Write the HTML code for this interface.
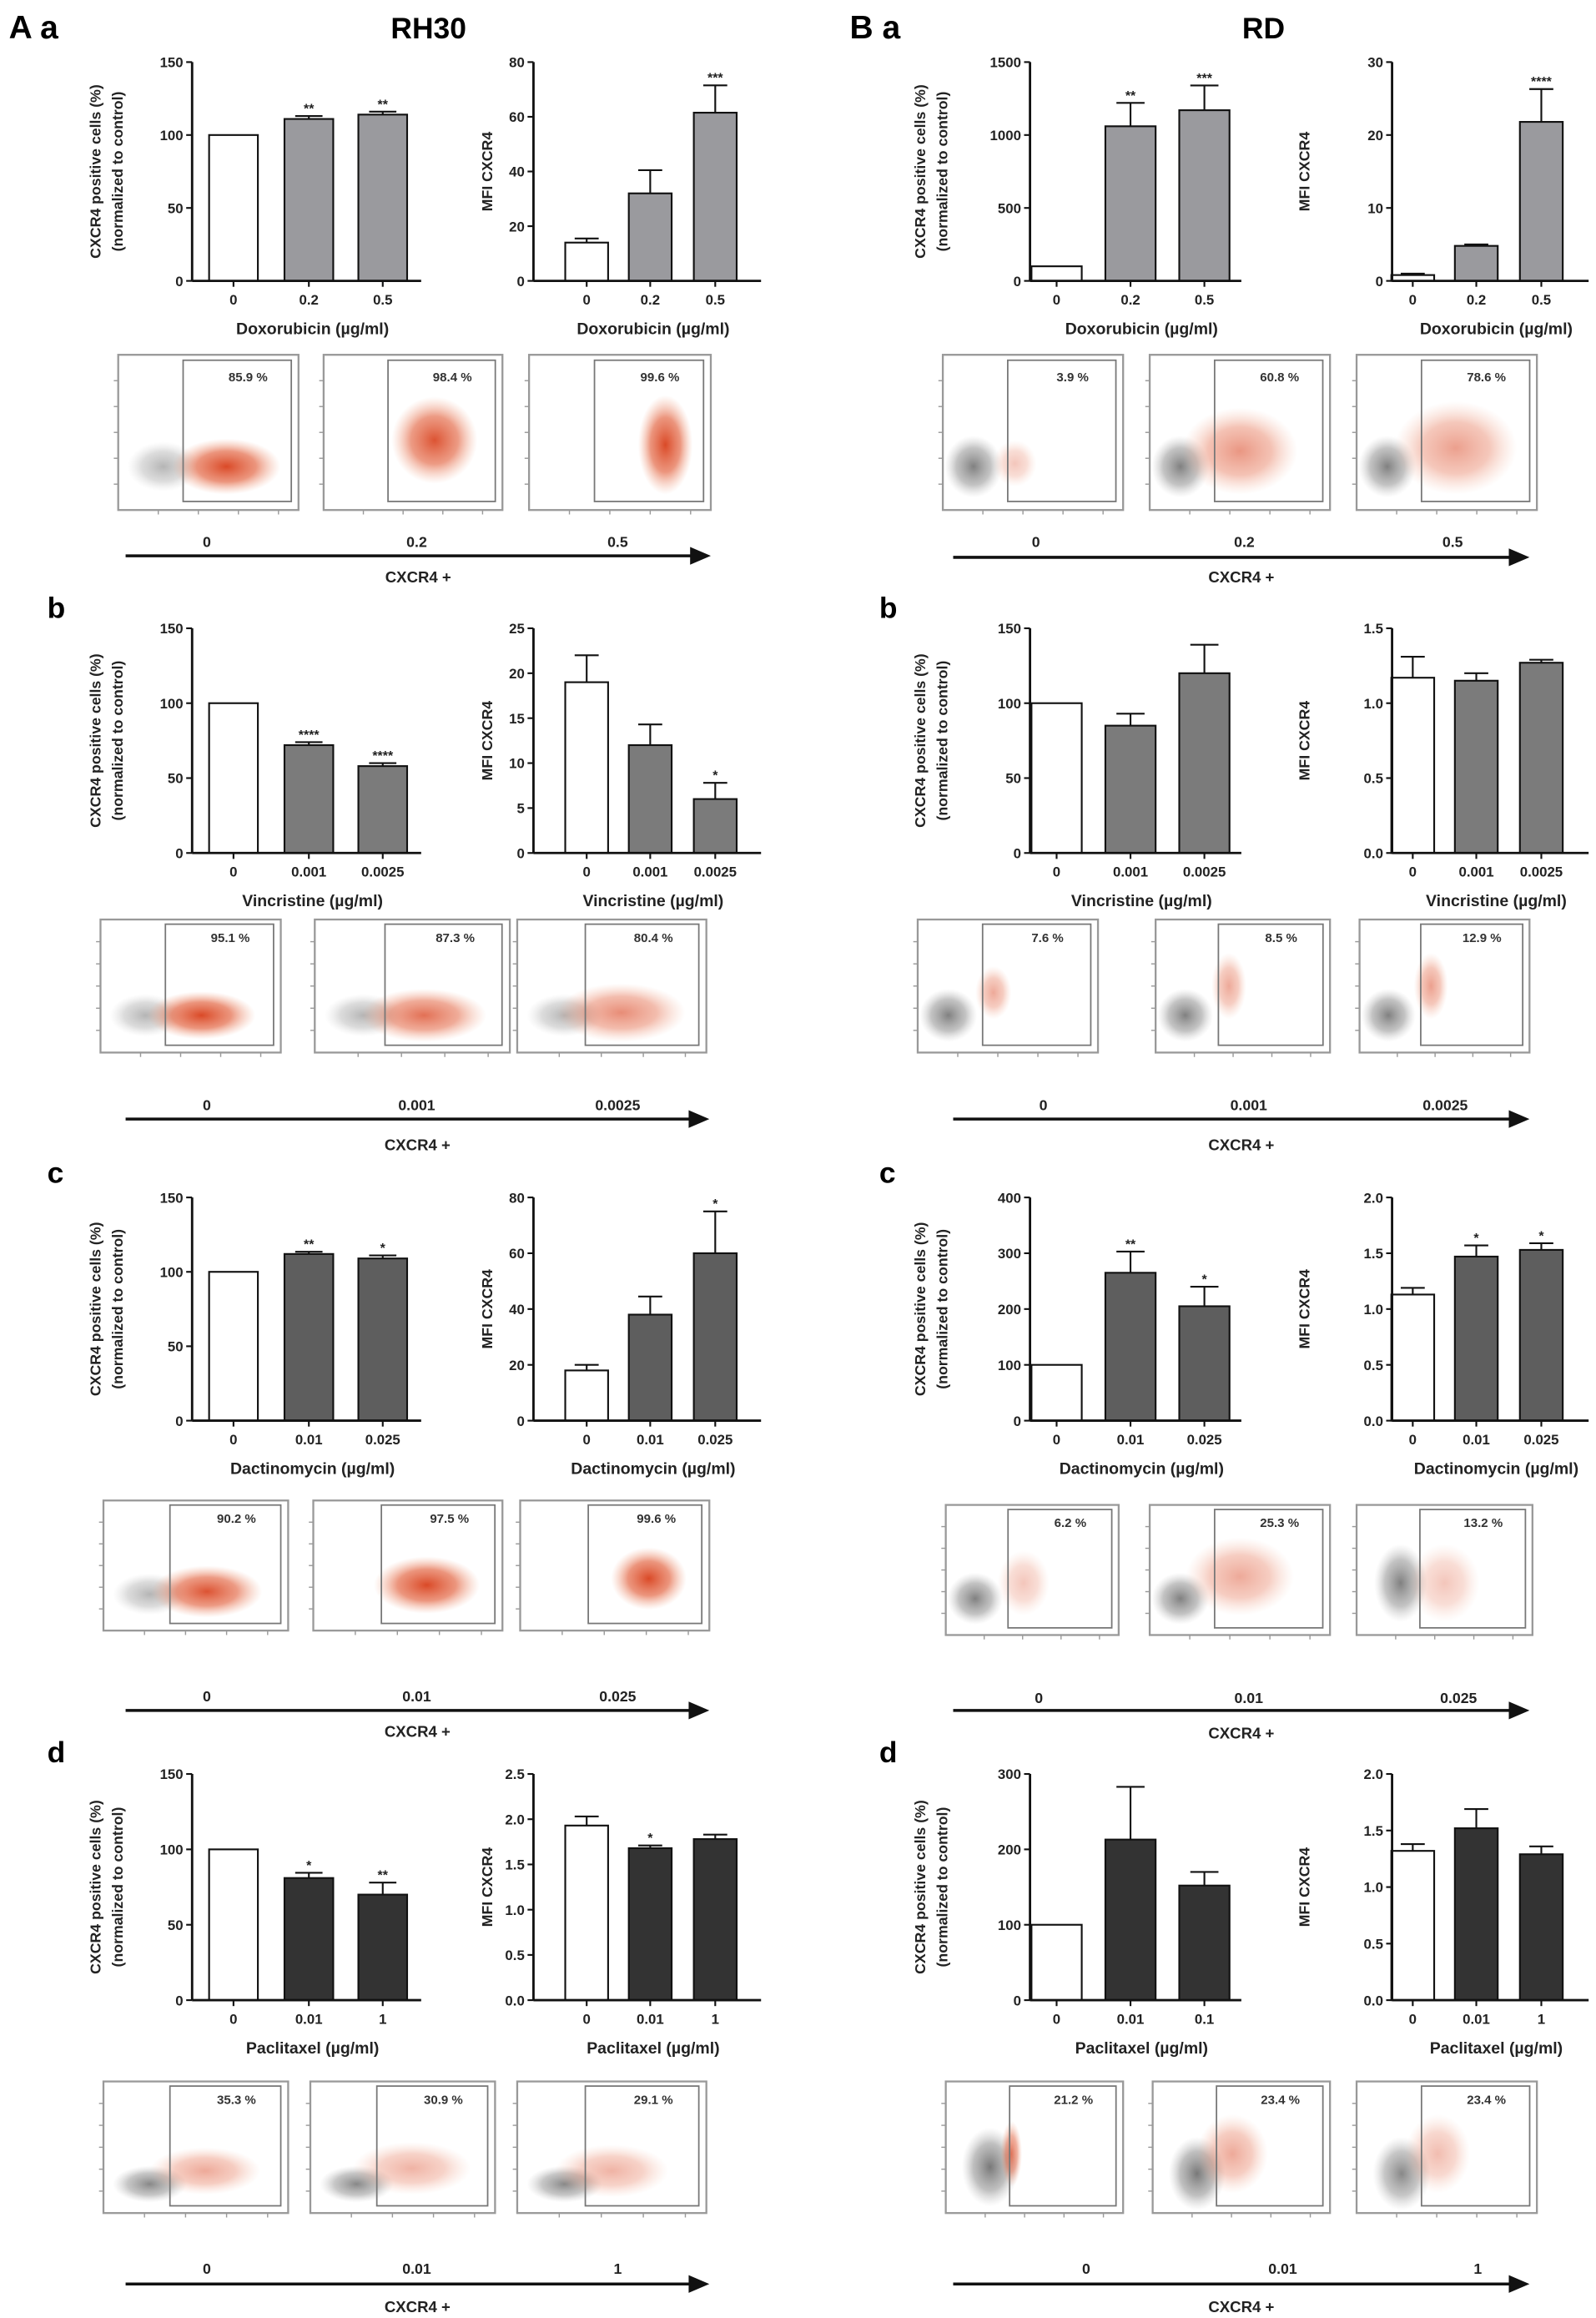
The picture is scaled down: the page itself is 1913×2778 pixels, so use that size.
<!DOCTYPE html>
<html><head><meta charset="utf-8">
<style>
html,body{margin:0;padding:0;background:#fff;}
svg{display:block;font-family:"Liberation Sans",Arial,sans-serif;}
</style></head>
<body>
<svg id="fig" width="1913" height="2778" viewBox="0 0 1080 1568" preserveAspectRatio="none" xmlns="http://www.w3.org/2000/svg">
<defs>
<radialGradient id="gRed"><stop offset="0" stop-color="#d8401c" stop-opacity="1"/><stop offset="0.55" stop-color="#e2603c" stop-opacity="0.7"/><stop offset="1" stop-color="#f0a080" stop-opacity="0"/></radialGradient>
<radialGradient id="gGray"><stop offset="0" stop-color="#6a6a6a" stop-opacity="1"/><stop offset="0.6" stop-color="#8a8a8a" stop-opacity="0.6"/><stop offset="1" stop-color="#bbb" stop-opacity="0"/></radialGradient>
</defs>
<text x="6" y="26" font-size="22" font-weight="bold">A a</text>
<text x="290" y="26" font-size="20" font-weight="bold" text-anchor="middle">RH30</text>
<text x="575" y="26" font-size="22" font-weight="bold">B a</text>
<text x="855" y="26" font-size="20" font-weight="bold" text-anchor="middle">RD</text>
<text x="32" y="418" font-size="20" font-weight="bold">b</text>
<text x="595" y="418" font-size="20" font-weight="bold">b</text>
<text x="32" y="800" font-size="20" font-weight="bold">c</text>
<text x="595" y="800" font-size="20" font-weight="bold">c</text>
<text x="32" y="1192" font-size="20" font-weight="bold">d</text>
<text x="595" y="1192" font-size="20" font-weight="bold">d</text>
</svg>
<script>
// ---- data ----
const aaPctVals=[100,111,114], aaPctErr=[0,2,2], aaPctSig=["","**","**"];
const aaMfiVals=[14,32,61.5], aaMfiErr=[1.5,8.5,10], aaMfiSig=["","","***"];
const abPctVals=[100,72,58], abPctErr=[0,2,2], abPctSig=["","****","****"];
const abMfiVals=[19,12,6], abMfiErr=[3,2.3,1.8], abMfiSig=["","","*"];
const acPctVals=[100,112,109], acPctErr=[0,1.5,2], acPctSig=["","**","*"];
const acMfiVals=[18,38,60], acMfiErr=[2,6.5,15], acMfiSig=["","","*"];
const adPctVals=[100,81,70], adPctErr=[0,3.5,8], adPctSig=["","*","**"];
const adMfiVals=[1.93,1.68,1.78], adMfiErr=[0.1,0.03,0.05], adMfiSig=["","*",""];
const baPctVals=[100,1060,1170], baPctErr=[0,160,170], baPctSig=["","**","***"];
const baMfiVals=[0.8,4.8,21.8], baMfiErr=[0.2,0.2,4.5], baMfiSig=["","","****"];
const bbPctVals=[100,85,120], bbPctErr=[0,8,19], bbPctSig=["","",""];
const bbMfiVals=[1.17,1.15,1.27], bbMfiErr=[0.14,0.05,0.02], bbMfiSig=["","",""];
const bcPctVals=[100,265,205], bcPctErr=[0,38,35], bcPctSig=["","**","*"];
const bcMfiVals=[1.13,1.47,1.53], bcMfiErr=[0.06,0.1,0.06], bcMfiSig=["","*","*"];
const bdPctVals=[100,213,152], bdPctErr=[0,70,18], bdPctSig=["","",""];
const bdMfiVals=[1.32,1.52,1.29], bdMfiErr=[0.06,0.17,0.07], bdMfiSig=["","",""];
const doxLabels=["0","0.2","0.5"], vinLabels=["0","0.001","0.0025"], dacLabels=["0","0.01","0.025"];
const pacLabelsA=["0","0.01","1"], pacLabelsB=["0","0.01","0.1"];
const ticks150=[0,50,100,150], ticks80=[0,20,40,60,80], ticks25=[0,5,10,15,20,25], ticks2_5=[0,0.5,1,1.5,2,2.5];
const ticks1500=[0,500,1000,1500], ticks30=[0,10,20,30], ticks1_5=[0,0.5,1,1.5], ticks400=[0,100,200,300,400], ticks2=[0,0.5,1,1.5,2], ticks300=[0,100,200,300];
const flowPctAa=["85.9 %","98.4 %","99.6 %"], flowPctAb=["95.1 %","87.3 %","80.4 %"], flowPctAc=["90.2 %","97.5 %","99.6 %"], flowPctAd=["35.3 %","30.9 %","29.1 %"];
const flowPctBa=["3.9 %","60.8 %","78.6 %"], flowPctBb=["7.6 %","8.5 %","12.9 %"], flowPctBc=["6.2 %","25.3 %","13.2 %"], flowPctBd=["21.2 %","23.4 %","23.4 %"];

const svg=document.getElementById('fig');
const NS='http://www.w3.org/2000/svg';
function el(tag,attrs,parent,txt){const e=document.createElementNS(NS,tag);for(const k in attrs)e.setAttribute(k,attrs[k]);if(txt!==undefined)e.textContent=txt;(parent||svg).appendChild(e);return e;}
function fmt(t,dec){return dec?t.toFixed(1):String(t);}

function barChart(name,c){
  const g=el('g',{});
  
  
  const ymax=c.ticks[c.ticks.length-1];
  const y=v=>c.bottom-(v/ymax)*(c.bottom-c.top);
  c.vals.forEach((v,i)=>{
    const cx=c.centers[i];
    const r=el('rect',{x:cx-c.bw/2,y:y(v),width:c.bw,height:c.bottom-y(v),fill:i===0?'#fff':c.fill,stroke:'#111','stroke-width':1.2},g);
    
    
    if(c.errs[i]>0){
      const ey=y(v+c.errs[i]);
      el('line',{x1:cx,x2:cx,y1:y(v),y2:ey,stroke:'#111','stroke-width':1.2},g);
      el('line',{x1:cx-c.bw*0.28,x2:cx+c.bw*0.28,y1:ey,y2:ey,stroke:'#111','stroke-width':1.2},g);
    }
    if(c.sigs[i]){
      const st=el('text',{x:cx,y:y(v+c.errs[i])-2,'font-size':9,'font-weight':'bold','text-anchor':'middle',fill:'#222'},g,c.sigs[i]);
      
      
    }
    const tl=el('text',{x:cx,y:c.bottom+16,'font-size':9.5,'font-weight':'bold','text-anchor':'middle',fill:'#222'},g,c.labels[i]);
    
    
    el('line',{x1:cx,x2:cx,y1:c.bottom,y2:c.bottom+4,stroke:'#111','stroke-width':1.2},g);
  });
  el('line',{x1:c.axisX,x2:c.axisX,y1:c.top,y2:c.bottom,stroke:'#111','stroke-width':1.6},g);
  el('line',{x1:c.axisX,x2:c.endX,y1:c.bottom,y2:c.bottom,stroke:'#111','stroke-width':1.6},g);
  c.ticks.forEach(t=>{
    el('line',{x1:c.axisX-4,x2:c.axisX,y1:y(t),y2:y(t),stroke:'#111','stroke-width':1.2},g);
    const tt=el('text',{x:c.axisX-6,y:y(t)+3.5,'font-size':9.5,'font-weight':'bold','text-anchor':'end',fill:'#222'},g,fmt(t,c.dec));
    
    
  });
  const xt=el('text',{x:(c.axisX+c.endX)/2+4,y:c.bottom+36,'font-size':11,'font-weight':'bold','text-anchor':'middle',fill:'#222'},g,c.xtitle);
  
  
  const my=(c.top+c.bottom)/2;
  c.ytitle.forEach((s,k)=>{
    const xx=c.ytx+k*15;
    const yt=el('text',{x:xx,y:my,'font-size':10,'font-weight':'bold','text-anchor':'middle',fill:'#222',transform:`rotate(-90 ${xx} ${my})`},g,s);
    
    
  });
}

function flowRow(name,r){
  const g=el('g',{});
  
  
  r.boxes.forEach((bx,i)=>{
    const x0=bx[0],w=bx[1]-bx[0],y0=r.top,h=r.bottom-r.top;
    const p=el('g',{},g);
    
    
    const cl=r.clouds[i];
    if(cl.gray) el('ellipse',{cx:x0+cl.gray[0]*w,cy:y0+cl.gray[1]*h,rx:cl.gray[2]*w,ry:cl.gray[3]*h,fill:'url(#gGray)',opacity:cl.gray[4]},p);
    if(cl.red) el('ellipse',{cx:x0+cl.red[0]*w,cy:y0+cl.red[1]*h,rx:cl.red[2]*w,ry:cl.red[3]*h,fill:'url(#gRed)',opacity:cl.red[4]},p);
    el('rect',{x:x0,y:y0,width:w,height:h,fill:'none',stroke:'#999','stroke-width':1.3},p);
    el('rect',{x:x0+w*r.gate,y:y0+h*0.035,width:w*(0.96-r.gate),height:h*0.91,fill:'none',stroke:'#777','stroke-width':1},p);
    for(let k=1;k<6;k++){el('line',{x1:x0-3,x2:x0,y1:y0+h*k/6,y2:y0+h*k/6,stroke:'#999','stroke-width':0.8},p);}
    for(let k=1;k<5;k++){el('line',{x1:x0+w*k/4.5,x2:x0+w*k/4.5,y1:y0+h,y2:y0+h+3,stroke:'#999','stroke-width':0.8},p);}
    const pt=el('text',{x:x0+w*0.72,y:y0+h*0.17,'font-size':8.5,'font-weight':'bold','text-anchor':'middle',fill:'#333'},p,r.pcts[i]);
    
    
    const dl=el('text',{x:r.doseX[i],y:r.doseY,'font-size':10,'font-weight':'bold','text-anchor':'middle',fill:'#222'},g,r.doses[i]);
    
    
  });
  el('line',{x1:r.ax0,x2:r.ax1-10,y1:r.arrowY,y2:r.arrowY,stroke:'#111','stroke-width':2},g);
  const ah=el('polygon',{points:`${r.ax1-14},${r.arrowY-6} ${r.ax1},${r.arrowY} ${r.ax1-14},${r.arrowY+6}`,fill:'#111'},g);
  
  
  const ct=el('text',{x:(r.ax0+r.ax1)/2,y:r.cxY,'font-size':10.5,'font-weight':'bold','text-anchor':'middle',fill:'#222'},g,'CXCR4 +');
  
  
}

const pctY=["CXCR4 positive cells (%)","(normalized to control)"], mfiY=["MFI CXCR4"];
const rows=[{t:42,b:190},{t:425,b:577},{t:810,b:961},{t:1200,b:1353}];
const fills=['#9a9a9e','#7b7b7b','#5e5e5e','#333333'];
const A1=(r,i,v,e,s,tk,lab,xt,dec)=>barChart(`chart-A-${i}-pct`,{axisX:130,endX:285,top:r.t,bottom:r.b,centers:[158,209,259],bw:33,ticks:tk,vals:v,errs:e,sigs:s,labels:lab,xtitle:xt,ytitle:pctY,ytx:68,fill:fills[i],dec});
const A2=(r,i,v,e,s,tk,lab,xt,dec)=>barChart(`chart-A-${i}-mfi`,{axisX:361,endX:515,top:r.t,bottom:r.b,centers:[397,440,484],bw:29,ticks:tk,vals:v,errs:e,sigs:s,labels:lab,xtitle:xt,ytitle:mfiY,ytx:333,fill:fills[i],dec});
const B1=(r,i,v,e,s,tk,lab,xt,dec)=>barChart(`chart-B-${i}-pct`,{axisX:697,endX:840,top:r.t,bottom:r.b,centers:[715,765,815],bw:34,ticks:tk,vals:v,errs:e,sigs:s,labels:lab,xtitle:xt,ytitle:pctY,ytx:626,fill:fills[i],dec});
const B2=(r,i,v,e,s,tk,lab,xt,dec)=>barChart(`chart-B-${i}-mfi`,{axisX:942,endX:1075,top:r.t,bottom:r.b,centers:[956,999,1043],bw:29,ticks:tk,vals:v,errs:e,sigs:s,labels:lab,xtitle:xt,ytitle:mfiY,ytx:886,fill:fills[i],dec});

A1(rows[0],0,aaPctVals,aaPctErr,aaPctSig,ticks150,doxLabels,"Doxorubicin  (µg/ml)");
A2(rows[0],0,aaMfiVals,aaMfiErr,aaMfiSig,ticks80,doxLabels,"Doxorubicin  (µg/ml)");
A1(rows[1],1,abPctVals,abPctErr,abPctSig,ticks150,vinLabels,"Vincristine  (µg/ml)");
A2(rows[1],1,abMfiVals,abMfiErr,abMfiSig,ticks25,vinLabels,"Vincristine  (µg/ml)");
A1(rows[2],2,acPctVals,acPctErr,acPctSig,ticks150,dacLabels,"Dactinomycin  (µg/ml)");
A2(rows[2],2,acMfiVals,acMfiErr,acMfiSig,ticks80,dacLabels,"Dactinomycin  (µg/ml)");
A1(rows[3],3,adPctVals,adPctErr,adPctSig,ticks150,pacLabelsA,"Paclitaxel  (µg/ml)");
A2(rows[3],3,adMfiVals,adMfiErr,adMfiSig,ticks2_5,pacLabelsA,"Paclitaxel  (µg/ml)",true);
B1(rows[0],0,baPctVals,baPctErr,baPctSig,ticks1500,doxLabels,"Doxorubicin  (µg/ml)");
B2(rows[0],0,baMfiVals,baMfiErr,baMfiSig,ticks30,doxLabels,"Doxorubicin  (µg/ml)");
B1(rows[1],1,bbPctVals,bbPctErr,bbPctSig,ticks150,vinLabels,"Vincristine  (µg/ml)");
B2(rows[1],1,bbMfiVals,bbMfiErr,bbMfiSig,ticks1_5,vinLabels,"Vincristine  (µg/ml)",true);
B1(rows[2],2,bcPctVals,bcPctErr,bcPctSig,ticks400,dacLabels,"Dactinomycin  (µg/ml)");
B2(rows[2],2,bcMfiVals,bcMfiErr,bcMfiSig,ticks2,dacLabels,"Dactinomycin  (µg/ml)",true);
B1(rows[3],3,bdPctVals,bdPctErr,bdPctSig,ticks300,pacLabelsB,"Paclitaxel  (µg/ml)");
B2(rows[3],3,bdMfiVals,bdMfiErr,bdMfiSig,ticks2,pacLabelsA,"Paclitaxel  (µg/ml)",true);

// flow rows (decorative density clouds)
const gA=[0.25,0.72,0.2,0.16,0.5];
flowRow('flow-row-A-a',{top:240,bottom:345,boxes:[[80,202],[219,340],[358,481]],gate:0.36,pcts:flowPctAa,doses:doxLabels,doseX:[140,282,418],doseY:370,arrowY:376,ax0:85,ax1:481,cxY:394,
 clouds:[{gray:gA,red:[0.6,0.72,0.3,0.18,0.95]},{red:[0.62,0.55,0.24,0.28,0.9]},{red:[0.75,0.58,0.15,0.32,0.95]}]});
flowRow('flow-row-A-b',{top:622,bottom:712,boxes:[[68,190],[213,345],[350,478]],gate:0.36,pcts:flowPctAb,doses:vinLabels,doseX:[140,282,418],doseY:751,arrowY:757,ax0:85,ax1:480,cxY:778,
 clouds:[{gray:gA,red:[0.56,0.72,0.3,0.18,0.95]},{gray:gA,red:[0.56,0.72,0.32,0.2,0.75]},{gray:gA,red:[0.55,0.7,0.34,0.22,0.6]}]});
flowRow('flow-row-A-c',{top:1015,bottom:1103,boxes:[[70,195],[212,340],[352,480]],gate:0.36,pcts:flowPctAc,doses:dacLabels,doseX:[140,282,418],doseY:1151,arrowY:1157,ax0:85,ax1:480,cxY:1175,
 clouds:[{gray:gA,red:[0.56,0.7,0.3,0.2,0.9]},{red:[0.6,0.65,0.28,0.22,0.95]},{red:[0.68,0.6,0.2,0.24,0.95]}]});
flowRow('flow-row-A-d',{top:1408,bottom:1497,boxes:[[70,195],[210,335],[350,478]],gate:0.36,pcts:flowPctAd,doses:pacLabelsA,doseX:[140,282,418],doseY:1538,arrowY:1545,ax0:85,ax1:480,cxY:1564,
 clouds:[{gray:[0.25,0.78,0.2,0.14,0.8],red:[0.55,0.68,0.3,0.18,0.45]},{gray:[0.25,0.78,0.2,0.14,0.8],red:[0.55,0.66,0.32,0.2,0.4]},{gray:[0.25,0.78,0.2,0.14,0.8],red:[0.5,0.68,0.3,0.2,0.4]}]});
const gB=[0.17,0.72,0.16,0.2,0.85];
flowRow('flow-row-B-a',{top:240,bottom:345,boxes:[[638,760],[778,900],[918,1040]],gate:0.36,pcts:flowPctBa,doses:doxLabels,doseX:[701,842,983],doseY:370,arrowY:377,ax0:645,ax1:1035,cxY:394,
 clouds:[{gray:gB,red:[0.4,0.7,0.12,0.15,0.3]},{gray:gB,red:[0.5,0.62,0.32,0.28,0.55]},{gray:gB,red:[0.55,0.6,0.34,0.3,0.5]}]});
flowRow('flow-row-B-b',{top:622,bottom:712,boxes:[[621,743],[782,900],[920,1035]],gate:0.36,pcts:flowPctBb,doses:vinLabels,doseX:[706,845,978],doseY:751,arrowY:757,ax0:645,ax1:1035,cxY:778,
 clouds:[{gray:gB,red:[0.42,0.55,0.1,0.2,0.45]},{gray:gB,red:[0.42,0.5,0.1,0.25,0.45]},{gray:gB,red:[0.42,0.5,0.1,0.25,0.5]}]});
flowRow('flow-row-B-c',{top:1018,bottom:1106,boxes:[[640,757],[778,900],[918,1037]],gate:0.36,pcts:flowPctBc,doses:dacLabels,doseX:[703,845,987],doseY:1152,arrowY:1157,ax0:645,ax1:1035,cxY:1176,
 clouds:[{gray:gB,red:[0.45,0.6,0.15,0.25,0.3]},{gray:gB,red:[0.5,0.55,0.3,0.3,0.45]},{gray:[0.25,0.6,0.15,0.3,0.85],red:[0.5,0.6,0.2,0.3,0.3]}]});
flowRow('flow-row-B-d',{top:1408,bottom:1497,boxes:[[640,760],[780,900],[918,1040]],gate:0.36,pcts:flowPctBd,doses:pacLabelsA,doseX:[735,868,1000],doseY:1538,arrowY:1545,ax0:645,ax1:1035,cxY:1564,
 clouds:[{gray:[0.25,0.65,0.16,0.3,0.9],red:[0.37,0.55,0.06,0.25,0.7]},{gray:[0.25,0.7,0.16,0.28,0.9],red:[0.45,0.55,0.2,0.3,0.45]},{gray:[0.25,0.7,0.16,0.28,0.8],red:[0.45,0.55,0.18,0.3,0.35]}]});
</script>
</body></html>
